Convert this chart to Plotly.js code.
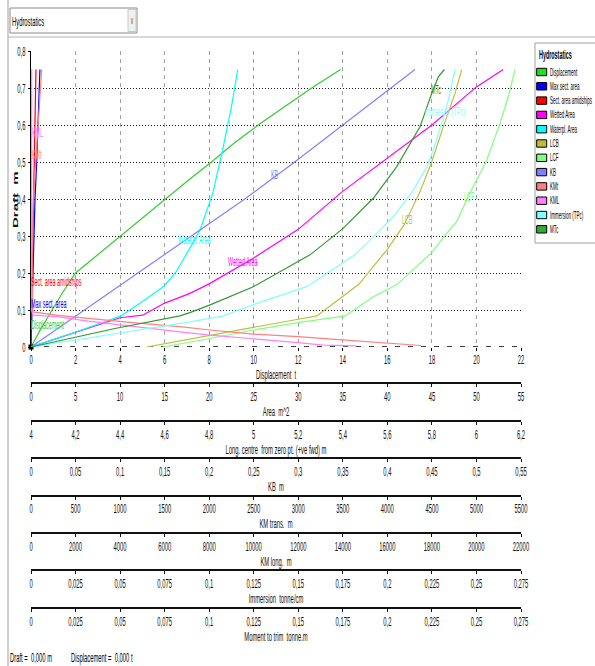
<!DOCTYPE html>
<html><head><meta charset="utf-8">
<script src="https://cdn.plot.ly/plotly-3.0.1.min.js"></script>
<style>html,body{margin:0;padding:0;background:#fff}#chart{width:595px;height:666px}</style>
</head><body><div id="chart"></div>
<script>
// ---------------- data ----------------
const seriesNames = ['Displacement','Max sect. area','Sect. area amidships','Wetted Area','Waterpl. Area','LCB','LCF','KB','KMt','KML','Immersion (TPc)','MTc'];

const dispDraft = [0, 0.05, 0.1, 0.15, 0.2, 0.25, 0.3, 0.35, 0.4, 0.45, 0.5, 0.55, 0.6, 0.65, 0.7, 0.75];
const dispValue = [0, 0.45, 0.95, 1.45, 2.0, 3.0, 4.0, 5.0, 6.0, 7.05, 8.1, 9.1, 10.2, 11.4, 12.6, 13.9];

const maxSectDraft = [0, 0.1, 0.2, 0.3, 0.4, 0.5, 0.6, 0.75];
const maxSectValue = [0, 0.1, 0.22, 0.34, 0.45, 0.64, 0.8, 1.0];

const sectMidDraft = [0, 0.1, 0.2, 0.3, 0.4, 0.5, 0.6, 0.75];
const sectMidValue = [0, 0.06, 0.13, 0.2, 0.28, 0.36, 0.44, 0.56];

const wettedDraft = [0, 0.04, 0.079, 0.086, 0.118, 0.145, 0.172, 0.24, 0.318, 0.42, 0.51, 0.6, 0.703, 0.75];
const wettedValue = [0, 5.05, 10.0, 12.55, 14.95, 17.85, 20.1, 24.95, 30.0, 34.95, 39.95, 45.0, 50.0, 53.0];

const wplDraft = [0, 0.04, 0.084, 0.12, 0.165, 0.2, 0.253, 0.315, 0.415, 0.532, 0.649, 0.75];
const wplValue = [0, 4.95, 10.1, 12.35, 14.95, 16.2, 17.5, 18.95, 20.4, 21.5, 22.5, 23.2];

const lcbDraft = [0, 0.017, 0.028, 0.053, 0.075, 0.084, 0.136, 0.17, 0.262, 0.33, 0.42, 0.5, 0.595, 0.686, 0.75];
const lcbValue = [4.52, 4.669, 4.781, 4.998, 5.2, 5.283, 5.398, 5.473, 5.597, 5.675, 5.747, 5.799, 5.851, 5.904, 5.934];

const lcfDraft = [0, 0.008, 0.023, 0.046, 0.066, 0.084, 0.136, 0.168, 0.255, 0.307, 0.339, 0.406, 0.505, 0.605, 0.677, 0.75];
const lcfValue = [4.59, 4.669, 4.804, 4.998, 5.2, 5.41, 5.537, 5.642, 5.799, 5.866, 5.911, 5.962, 6.046, 6.106, 6.143, 6.173];

const kbDraft = [0, 0.1, 0.2, 0.3, 0.4, 0.5, 0.6, 0.7, 0.75];
const kbValue = [0, 0.06, 0.12, 0.18, 0.24, 0.296, 0.35, 0.404, 0.431];

const kmtDraft = [0.004, 0.01, 0.019, 0.028, 0.035, 0.046, 0.055, 0.065, 0.075, 0.085, 0.095, 0.2, 0.3, 0.4, 0.5, 0.6, 0.7, 0.75];
const kmtValue = [4380, 3992, 3491, 2997, 2492, 2009, 1672, 1167, 718, 325, 22, 11, 17, 26, 53, 80, 107, 120];

const kmlDraft = [0.003, 0.005, 0.012, 0.022, 0.032, 0.041, 0.05, 0.06, 0.07, 0.082, 0.086, 0.1, 0.2, 0.3, 0.4, 0.5, 0.6, 0.75];
const kmlValue = [14620, 13120, 12000, 9980, 8040, 6690, 5340, 4000, 2560, 1170, 90, 27, 25, 24, 25, 27, 29, 32];

const immDraft = [0, 0.037, 0.068, 0.084, 0.118, 0.163, 0.199, 0.249, 0.289, 0.352, 0.424, 0.487, 0.532, 0.649, 0.75];
const immValue = [0, 0.0499, 0.0892, 0.1079, 0.1267, 0.1547, 0.166, 0.1818, 0.1903, 0.2033, 0.2146, 0.2221, 0.2258, 0.2333, 0.238];

const mtcDraft = [0, 0.05, 0.084, 0.093, 0.114, 0.163, 0.249, 0.32, 0.402, 0.487, 0.595, 0.686, 0.73, 0.75];
const mtcValue = [0, 0.0471, 0.0836, 0.0892, 0.1005, 0.1248, 0.1566, 0.175, 0.1921, 0.2052, 0.2183, 0.2249, 0.2286, 0.232];

const currentDraft = [0];
const currentDisp = [0];

// tick values / labels
const dispTicks = [0, 2, 4, 6, 8, 10, 12, 14, 16, 18, 20, 22];
const dispTickText = ['0','2','4','6','8','10','12','14','16','18','20','22'];
const draftTicks = [0, 0.1, 0.2, 0.3, 0.4, 0.5, 0.6, 0.7, 0.8];
const draftTickText = ['0','0,1','0,2','0,3','0,4','0,5','0,6','0,7','0,8'];
const areaTicks = [0, 5, 10, 15, 20, 25, 30, 35, 40, 45, 50, 55];
const areaTickText = ['0','5','10','15','20','25','30','35','40','45','50','55'];
const lcTicks = [4, 4.2, 4.4, 4.6, 4.8, 5, 5.2, 5.4, 5.6, 5.8, 6, 6.2];
const lcTickText = ['4','4,2','4,4','4,6','4,8','5','5,2','5,4','5,6','5,8','6','6,2'];
const kbTicks = [0, 0.05, 0.1, 0.15, 0.2, 0.25, 0.3, 0.35, 0.4, 0.45, 0.5, 0.55];
const kbTickText = ['0','0,05','0,1','0,15','0,2','0,25','0,3','0,35','0,4','0,45','0,5','0,55'];
const kmtTicks = [0, 500, 1000, 1500, 2000, 2500, 3000, 3500, 4000, 4500, 5000, 5500];
const kmtTickText = ['0','500','1000','1500','2000','2500','3000','3500','4000','4500','5000','5500'];
const kmlTicks = [0, 2000, 4000, 6000, 8000, 10000, 12000, 14000, 16000, 18000, 20000, 22000];
const kmlTickText = ['0','2000','4000','6000','8000','10000','12000','14000','16000','18000','20000','22000'];
const immTicks = [0, 0.025, 0.05, 0.075, 0.1, 0.125, 0.15, 0.175, 0.2, 0.225, 0.25, 0.275];
const immTickText = ['0','0,025','0,05','0,075','0,1','0,125','0,15','0,175','0,2','0,225','0,25','0,275'];
const mtcTicks = [0, 0.025, 0.05, 0.075, 0.1, 0.125, 0.15, 0.175, 0.2, 0.225, 0.25, 0.275];
const mtcTickText = ['0','0,025','0,05','0,075','0,1','0,125','0,15','0,175','0,2','0,225','0,25','0,275'];

// ---------------- styles / layout ----------------
const seriesColors = ['#33cc33','#0000ff','#ff0000','#ff00ff','#00ffff','#bdbd40','#80ff80','#8080ff','#ff8080','#ff80ff','#80ffff','#339933'];
const legendSwatch = ['#22dd22','#0000ff','#ff0000','#ff00ff','#00ffff','#bdbd3d','#80ff80','#8080ff','#ff8080','#ff80ff','#80ffff','#33aa33'];
const FONT = 'Liberation Sans, Arial, Helvetica, sans-serif';
const SQUEEZE = 0.45;

const W = 595, H = 666, PL = 31, PR = 521, PT = 51, PB = 608;
const px2x = p => (p - PL) / (PR - PL);
const px2y = p => (PB - p) / (PB - PT);

const curves = [
  [dispValue, dispDraft, 'x'],
  [maxSectValue, maxSectDraft, 'x2'],
  [sectMidValue, sectMidDraft, 'x2'],
  [wettedValue, wettedDraft, 'x2'],
  [wplValue, wplDraft, 'x2'],
  [lcbValue, lcbDraft, 'x3'],
  [lcfValue, lcfDraft, 'x3'],
  [kbValue, kbDraft, 'x4'],
  [kmtValue, kmtDraft, 'x5'],
  [kmlValue, kmlDraft, 'x6'],
  [immValue, immDraft, 'x7'],
  [mtcValue, mtcDraft, 'x8']
];

const traces = curves.map((c, i) => ({
  type: 'scatter', mode: 'lines', name: seriesNames[i],
  x: c[0], y: c[1], xaxis: c[2], yaxis: 'y',
  line: {color: seriesColors[i], width: 1.2},
  hoverinfo: 'skip', showlegend: false
}));
traces.push({type: 'scatter', mode: 'markers', name: 'current', x: currentDisp, y: currentDraft,
  xaxis: 'x', yaxis: 'y', marker: {color: '#000', size: 5, symbol: 'square'}, hoverinfo: 'skip', showlegend: false, cliponaxis: false});

const tickFont = {family: FONT, size: 13, color: '#111'};
const titleFont = {family: FONT, size: 13, color: '#111'};
const NB = '\u00a0';

const layout = {
  width: W, height: H,
  margin: {l: PL, r: W - PR, t: PT, b: H - PB, pad: 0},
  paper_bgcolor: '#fff', plot_bgcolor: '#fff', showlegend: false,
  separators: ', ',
  font: {family: FONT, size: 12, color: '#000'},
  xaxis: {
    anchor: 'y', range: [0, 22], tickmode: 'array', tickvals: dispTicks, ticktext: dispTickText,
    showgrid: true, gridcolor: '#a2a2a2', griddash: '4px,4px', gridwidth: 1,
    showline: false, zeroline: false, ticks: 'outside', ticklen: 3, tickcolor: '#000', ticklabelstandoff: -3,
    tickfont: tickFont, title: {text: 'Displacement' + NB + NB + 't', font: titleFont, standoff: 0}, fixedrange: true
  },
  yaxis: {
    domain: [px2y(347), 1], range: [0, 0.8], tickmode: 'array', tickvals: draftTicks, ticktext: draftTickText,
    showgrid: true, gridcolor: '#1a1a1a', griddash: '1px,2px', gridwidth: 1,
    showline: true, linecolor: '#000', linewidth: 1, zeroline: false,
    ticks: 'outside', ticklen: 2, tickcolor: '#000', tickfont: tickFont, fixedrange: true
  },
  shapes: [], annotations: []
};

const secAxes = [
  ['Area' + NB + NB + 'm^2', [0, 55], areaTicks, areaTickText, 383.3],
  ['Long. centre' + NB + NB + 'from zero pt. (+ve fwd) m', [4, 6.2], lcTicks, lcTickText, 421],
  ['KB' + NB + NB + 'm', [0, 0.55], kbTicks, kbTickText, 458.3],
  ['KM trans.' + NB + NB + 'm', [0, 5500], kmtTicks, kmtTickText, 495.7],
  ['KM long.' + NB + NB + 'm', [0, 22000], kmlTicks, kmlTickText, 533],
  ['Immersion' + NB + NB + 'tonne/cm', [0, 0.275], immTicks, immTickText, 570],
  ['Moment to trim' + NB + NB + 'tonne.m', [0, 0.275], mtcTicks, mtcTickText, 608]
];
secAxes.forEach((a, i) => {
  layout['xaxis' + (i + 2)] = {
    overlaying: 'x', anchor: 'free', position: px2y(a[4]), range: a[1],
    tickmode: 'array', tickvals: a[2], ticktext: a[3],
    showline: true, linecolor: '#111', linewidth: 2, ticks: 'outside', ticklen: 3, tickwidth: 1, tickcolor: '#111',
    ticklabelstandoff: -2,
    showgrid: false, zeroline: false, tickfont: tickFont,
    title: {text: a[0], font: titleFont, standoff: 0}, fixedrange: true
  };
});

// y = 0 dashed base line
layout.shapes.push({type: 'line', xref: 'x', yref: 'y', x0: 0, x1: 22, y0: 0, y1: 0, layer: 'between', line: {color: '#fff', width: 2}});
layout.shapes.push({type: 'line', xref: 'x', yref: 'y', x0: 0, x1: 22, y0: 0, y1: 0, layer: 'between', line: {color: '#000', width: 1.5, dash: '5px,8px'}});

// window frame + dropdown
const pline = (x0, y0, x1, y1, color, w) => layout.shapes.push({type: 'line', xref: 'paper', yref: 'paper',
  x0: px2x(x0), x1: px2x(x1), y0: px2y(y0), y1: px2y(y1), line: {color: color, width: w}});
const prect = (x0, y0, x1, y1, fill, color, w) => layout.shapes.push({type: 'rect', xref: 'paper', yref: 'paper',
  x0: px2x(x0), x1: px2x(x1), y0: px2y(y1), y1: px2y(y0), fillcolor: fill, line: {color: color, width: w}});
pline(8, 0, 8, 666, '#a0a0a0', 1);
pline(8, 37, 595, 37, '#b0b0b0', 1);
prect(10, 8, 137, 33, '#fff', '#8a8a8a', 1);
prect(128, 9.5, 136, 31.5, '#f0f0f0', '#c8c8c8', 1);

const pann = (text, x, y, opts) => layout.annotations.push(Object.assign({
  text: text, xref: 'paper', yref: 'paper', x: px2x(x), y: px2y(y), xanchor: 'left', yanchor: 'middle',
  showarrow: false, borderpad: 0, font: {family: FONT, size: 12, color: '#000'}
}, opts || {}));

pann('Hydrostatics', 11, 21, {font: {family: FONT, size: 13, color: '#000'}});
pann('v', 132, 20, {xanchor: 'center', font: {family: FONT, size: 11, color: '#555'}});

// axis title for draft (vertical)
pann('Draft' + NB + NB + 'm', 15, 200, {xanchor: 'center', textangle: -90, font: {family: FONT, size: 15, color: '#111', weight: 'bold'}});

// curve labels
const curveLabels = [
  [0, 30, 325], [1, 30, 304], [2, 30, 282], [8, 31, 155], [9, 31, 133], [4, 177, 240],
  [3, 227, 262], [7, 270, 175], [5, 401, 220], [6, 463, 197], [11, 430, 90], [10, 424, 112]
];
curveLabels.forEach(l => {
  pann(seriesNames[l[0]], l[1], l[2], {font: {family: FONT, size: 12, color: seriesColors[l[0]]}});
});

// legend panel
prect(535, 43, 600, 243, '#fff', '#a0a0a0', 1);
pann('Hydrostatics', 537.5, 55, {font: {family: FONT, size: 12, color: '#000', weight: 'bold'}});
seriesNames.forEach((n, i) => {
  const cy = 72 + i * 14.3;
  prect(536.7, cy - 3.7, 546.7, cy + 3.7, legendSwatch[i], '#000', 1);
  pann(n, 548.5, cy, {font: {family: FONT, size: 10, color: '#000'}});
});

// footer
const fmt = v => v.toFixed(3).replace('.', ',');
pann('Draft =' + NB + NB + fmt(currentDraft[0]) + ' m', 9, 657, {font: {family: FONT, size: 13, color: '#000'}});
pann('Displacement =' + NB + NB + fmt(currentDisp[0]) + ' t', 70, 657, {font: {family: FONT, size: 13, color: '#000'}});

// condense text horizontally, like the original narrow UI font
function condense(gd) {
  const anns = layout.annotations;
  gd.querySelectorAll('svg text').forEach(t => {
    if (!t.textContent.trim()) return;
    let bb;
    try { bb = t.getBBox(); } catch (e) { return; }
    if (!bb || !bb.width) return;
    let mode = t.getAttribute('text-anchor') || 'start';
    let vertical = false;
    const g = t.closest('g.annotation');
    if (g) {
      const a = anns[+g.getAttribute('data-index')];
      if (a) {
        mode = a.xanchor === 'left' ? 'start' : a.xanchor === 'right' ? 'end' : 'middle';
        vertical = !!a.textangle;
      }
    }
    const ax = mode === 'start' ? bb.x : mode === 'end' ? bb.x + bb.width : bb.x + bb.width / 2;
    const cy = bb.y + bb.height / 2;
    const sc = vertical ? '1,' + SQUEEZE : SQUEEZE + ',1';
    const prev = t.getAttribute('transform') || '';
    t.setAttribute('transform', (prev + ' translate(' + ax + ',' + cy + ') scale(' + sc + ') translate(' + (-ax) + ',' + (-cy) + ')').trim());
  });
}

const gd = document.getElementById('chart');
Plotly.newPlot(gd, traces, layout, {staticPlot: true, displayModeBar: false, responsive: false}).then(() => condense(gd));
</script>
</body></html>
